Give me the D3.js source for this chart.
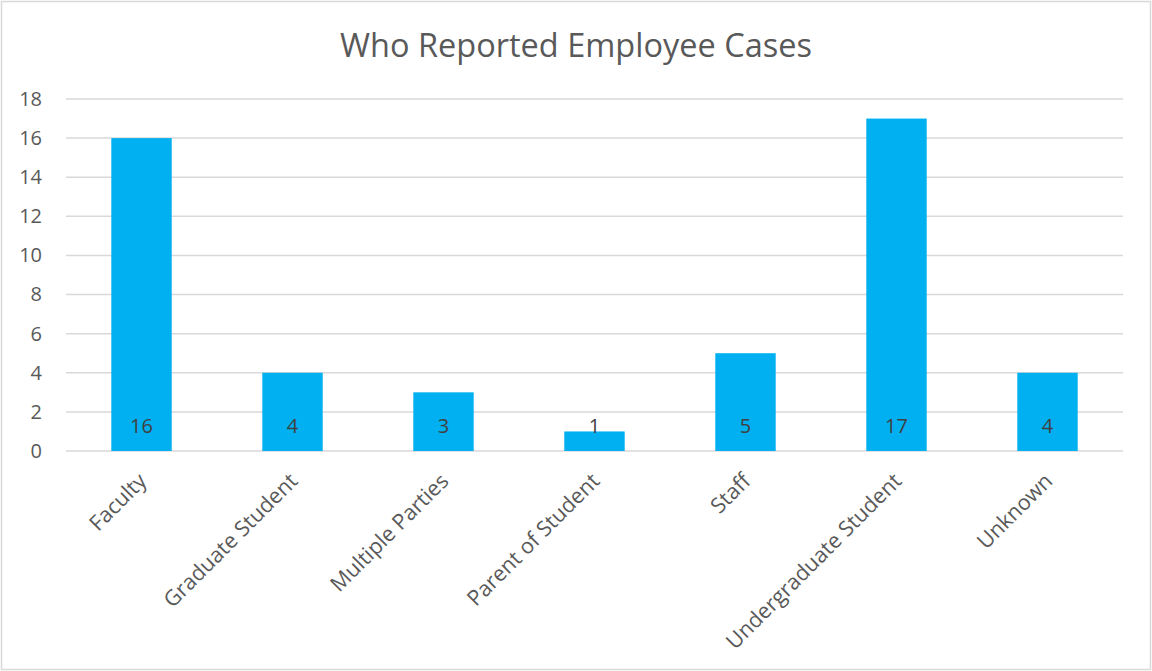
<!DOCTYPE html>
<html>
<head>
<meta charset="utf-8">
<script src="https://cdn.jsdelivr.net/npm/d3@7"></script>
<style>
  html, body { margin: 0; padding: 0; background: #fff; }
  svg { display: block; }
  text { font-family: "Open Sans", "Liberation Sans", sans-serif; }
</style>
</head>
<body>
<svg id="chart" width="1152" height="671"></svg>
<script>
// Who reported employee cases, by reporter type
const categories = ["Faculty", "Graduate Student", "Multiple Parties", "Parent of Student", "Staff", "Undergraduate Student", "Unknown"];
const counts = [16, 4, 3, 1, 5, 17, 4];
const yTicks = [0, 2, 4, 6, 8, 10, 12, 14, 16, 18];
const title = "Who Reported Employee Cases";

const W = 1152, H = 671;
const margin = { top: 99, right: 29, bottom: 220, left: 66 };
const svg = d3.select("#chart");

// outer chart border
svg.append("rect")
  .attr("x", 1.5).attr("y", 1.5)
  .attr("width", W - 3).attr("height", H - 3)
  .attr("fill", "#fff").attr("stroke", "#d9d9d9").attr("stroke-width", 1.5);

const x = d3.scaleBand()
  .domain(categories)
  .range([margin.left, W - margin.right])
  .paddingInner(0.6).paddingOuter(0.3);

const y = d3.scaleLinear()
  .domain([0, 18])
  .range([H - margin.bottom, margin.top]);

// gridlines
svg.append("g")
  .selectAll("line")
  .data(yTicks)
  .join("line")
  .attr("x1", margin.left).attr("x2", W - margin.right)
  .attr("y1", d => y(d)).attr("y2", d => y(d))
  .attr("stroke", "#d9d9d9").attr("stroke-width", 1.5);

// y tick labels
const yAxis = d3.axisLeft(y).tickValues(yTicks).tickSize(0).tickPadding(24);
const yg = svg.append("g").attr("transform", `translate(${margin.left},0)`).call(yAxis);
yg.select(".domain").remove();
yg.selectAll("text")
  .attr("fill", "#595959").attr("font-size", 20)
  .style("font-family", '"Open Sans", sans-serif');

// bars
svg.append("g")
  .selectAll("rect")
  .data(categories)
  .join("rect")
  .attr("x", d => x(d))
  .attr("width", x.bandwidth())
  .attr("y", (d, i) => y(counts[i]))
  .attr("height", (d, i) => y(0) - y(counts[i]))
  .attr("fill", "#00b0f0");

// data labels, placed just inside the base of each bar
svg.append("g")
  .selectAll("text")
  .data(categories)
  .join("text")
  .attr("x", d => x(d) + x.bandwidth() / 2)
  .attr("y", y(0) - 18)
  .attr("text-anchor", "middle")
  .attr("font-size", 20)
  .attr("fill", "#404040")
  .text((d, i) => counts[i]);

// category labels, rotated
svg.append("g")
  .selectAll("text")
  .data(categories)
  .join("text")
  .attr("transform", d => `translate(${x(d) + x.bandwidth() / 2 - 5},${y(0) + 20}) rotate(-45)`)
  .attr("dy", "0.75em")
  .attr("text-anchor", "end")
  .attr("font-size", 21.5)
  .attr("fill", "#595959")
  .text(d => d);

// title
svg.append("text")
  .attr("x", W / 2)
  .attr("y", 57)
  .attr("text-anchor", "middle")
  .attr("font-size", 32.5)
  .attr("fill", "#595959")
  .text(title);
</script>
</body>
</html>
